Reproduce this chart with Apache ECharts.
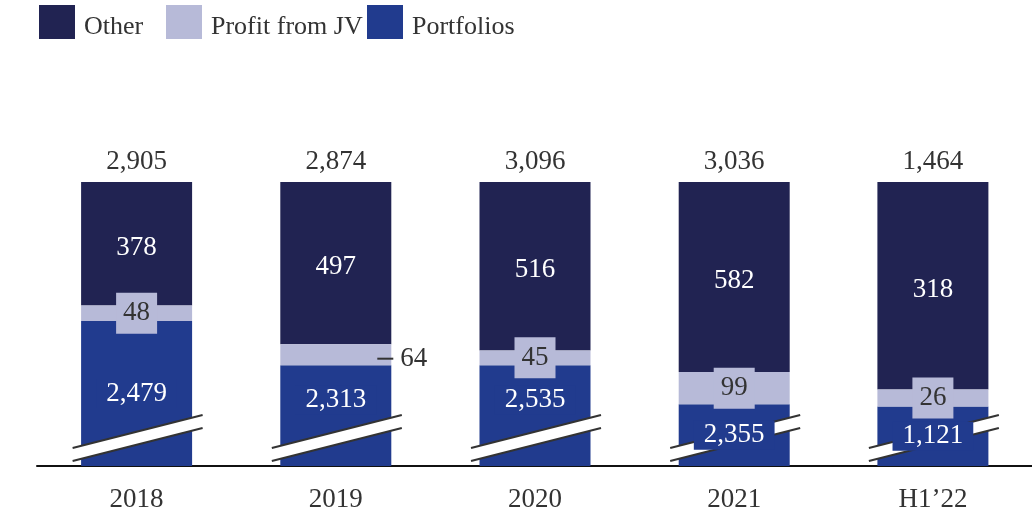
<!DOCTYPE html>
<html>
<head>
<meta charset="utf-8">
<script src="https://cdn.jsdelivr.net/npm/echarts@6/dist/echarts.min.js"></script>
<style>
  html, body { margin: 0; padding: 0; background: #fff; }
  #chart { width: 1032px; height: 517px; }
</style>
</head>
<body>
<div id="chart"></div>
<script>
// Income breakdown per period
const categories = ['2018', '2019', '2020', '2021', 'H1’22'];
const other      = [378, 497, 516, 582, 318];
const profitJV   = [48, 64, 45, 99, 26];
const portfolios = [2479, 2313, 2535, 2355, 1121];
const totals     = [2905, 2874, 3096, 3036, 1464];

// Each column sits on its own truncated value axis (the Portfolios bar is cut,
// marked by the break slash); the half-year column uses half the span.
const axisSpan = [870, 870, 870, 870, 435];
// Periods whose JV value is written outside the bar with a leader line
const jvOutside = ['2019'];

const FONT = 'Liberation Serif';
const C_OTHER = '#212352';
const C_JV = '#b7bad8';
const C_PORT = '#213b8e';
const TXT = '#333333';

const fmt = v => Number(v).toLocaleString('en-US');

function jvLabel(cat) {
  if (jvOutside.includes(cat)) {
    return {
      show: true, position: 'right', distance: -14, offset: [0, 4],
      formatter: '{ln| }{v|{c}}',
      rich: {
        ln: { width: 16, height: 2, backgroundColor: '#333' },
        v: { fontFamily: FONT, fontSize: 27, color: TXT, padding: [0, 0, 0, 7] }
      }
    };
  }
  return {
    show: true, position: 'inside', color: TXT,
    fontFamily: FONT, fontSize: 27, lineHeight: 31,
    backgroundColor: C_JV, padding: [5, 7, 5, 7]
  };
}

// Break slash across the cut Portfolios bar, plus the Portfolios value and the total
function renderBreak(params, api) {
  const pTop = api.coord([api.value(0), api.value(2)]);
  const cx = pTop[0];
  const top = pTop[1];
  const segTop = api.coord([api.value(0), api.value(1)])[1];
  const cs = params.coordSys;
  const bottom = cs.y + cs.height;
  const L = cx - 64, R = cx + 66;
  const a1 = bottom - 18, b1 = bottom - 51;
  const a2 = bottom - 5,  b2 = bottom - 38;
  const font = '27px "' + FONT + '"';
  // tall segments keep their value above the slash; short ones sit over it
  const visible = bottom - segTop;
  const mid = (segTop + bottom) / 2;
  const labelY = visible > 90 ? Math.min(mid, bottom - 66) : mid;
  return {
    type: 'group',
    children: [
      { type: 'polygon', shape: { points: [[L, a1], [R, b1], [R, b2], [L, a2]] }, style: { fill: '#fff' } },
      { type: 'line', shape: { x1: L, y1: a1, x2: R, y2: b1 }, style: { stroke: '#333', lineWidth: 2 } },
      { type: 'line', shape: { x1: L, y1: a2, x2: R, y2: b2 }, style: { stroke: '#333', lineWidth: 2 } },
      { type: 'text', x: cx, y: labelY,
        style: { text: fmt(api.value(1)), fill: '#fff', font: font, align: 'center', verticalAlign: 'middle',
                 backgroundColor: C_PORT, padding: [1, 10] } },
      { type: 'text', x: cx, y: top - 20,
        style: { text: fmt(api.value(3)), fill: TXT, font: font, align: 'center', verticalAlign: 'middle' } }
    ]
  };
}

const grids = [], xAxes = [], yAxes = [], series = [];
categories.forEach((cat, i) => {
  grids.push({ left: 37 + 199.2 * i, width: 199.2, top: 182, bottom: 51 });
  xAxes.push({
    type: 'category', gridIndex: i, data: [cat],
    axisTick: { show: false },
    axisLine: { lineStyle: { color: '#111', width: 2 } },
    axisLabel: { margin: 20, fontFamily: FONT, fontSize: 27, color: TXT }
  });
  const stackTop = portfolios[i] + profitJV[i] + other[i];
  yAxes.push({ type: 'value', gridIndex: i, max: stackTop, min: stackTop - axisSpan[i], show: false, splitLine: { show: false } });
  const common = { type: 'bar', xAxisIndex: i, yAxisIndex: i, stack: 's' + i, barWidth: 111, clip: true };
  series.push(Object.assign({}, common, { name: 'Portfolios', data: [portfolios[i]], itemStyle: { color: C_PORT }, z: 2 }));
  series.push(Object.assign({}, common, { name: 'Profit from JV', data: [profitJV[i]], itemStyle: { color: C_JV }, z: 3, label: jvLabel(cat) }));
  series.push(Object.assign({}, common, {
    name: 'Other', data: [other[i]], itemStyle: { color: C_OTHER }, z: 2,
    label: { show: true, position: 'inside', color: '#fff', fontFamily: FONT, fontSize: 27, offset: [0, 4] }
  }));
  series.push({
    type: 'custom', name: 'break', xAxisIndex: i, yAxisIndex: i, z: 5, silent: true,
    data: [[0, portfolios[i], stackTop, totals[i]]], renderItem: renderBreak
  });
});

const legendBase = {
  top: 5, padding: 0, icon: 'rect', itemWidth: 36, itemHeight: 34, selectedMode: false,
  formatter: '{t|{name}}',
  textStyle: {
    fontFamily: FONT, fontSize: 26, color: TXT, padding: [0, 0, 0, 4],
    rich: { t: { fontFamily: FONT, fontSize: 26, color: TXT, padding: [10, 0, 0, 0] } }
  }
};

const chart = echarts.init(document.getElementById('chart'), null, { renderer: 'canvas' });
chart.setOption({
  animation: false,
  backgroundColor: '#fff',
  legend: [
    Object.assign({}, legendBase, { data: ['Other'], left: 39 }),
    Object.assign({}, legendBase, { data: ['Profit from JV'], left: 166 }),
    Object.assign({}, legendBase, { data: ['Portfolios'], left: 367 })
  ],
  grid: grids,
  xAxis: xAxes,
  yAxis: yAxes,
  series: series
});
</script>
</body>
</html>
